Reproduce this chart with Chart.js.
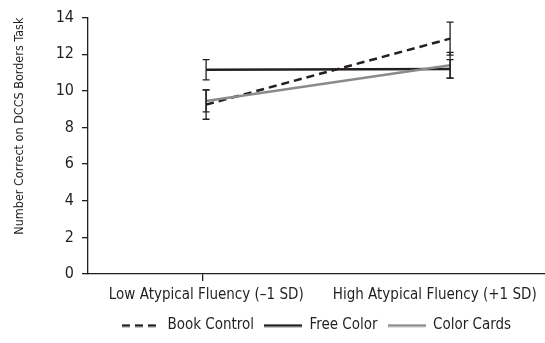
<!DOCTYPE html>
<html>
<head>
<meta charset="utf-8">
<script src="https://cdn.jsdelivr.net/npm/chart.js@4/dist/chart.umd.min.js"></script>
<style>
  html, body { margin: 0; padding: 0; background: #fff; }
  #wrap { width: 545px; height: 343px; }
</style>
</head>
<body>
<div id="wrap"><canvas id="lineChart"></canvas></div>
<script>
// categories and tick labels
const categories = ["Low Atypical Fluency (\u20131 SD)", "High Atypical Fluency (+1 SD)"];
const yTicks = [0, 2, 4, 6, 8, 10, 12, 14];

// series means
const bookControl = [9.25, 12.85];
const freeColor = [11.15, 11.2];
const colorCards = [9.45, 11.4];

// error bar half-lengths
const bookControlErr = [0.8, 0.9];
const freeColorErr = [0.55, 0.5];
const colorCardsErr = [0.6, 0.7];

const FONT = "'Liberation Sans Narrow', 'DejaVu Sans Condensed', 'Arial Narrow', sans-serif";
const INK = "#231f20";
const GREY = "#8a8a8a";

function toPoints(arr) {
  return arr.map((v, i) => ({ x: i, y: v }));
}

// small line sample for the legend (keeps the dash pattern)
function swatch(color, dash) {
  const c = document.createElement("canvas");
  c.width = 38;
  c.height = 4;
  const g = c.getContext("2d");
  g.strokeStyle = color;
  g.lineWidth = 2.5;
  g.setLineDash(dash);
  g.beginPath();
  g.moveTo(0, 2);
  g.lineTo(38, 2);
  g.stroke();
  return c;
}

// draws vertical error bars with caps from dataset.errors
const errorBars = {
  id: "errorBars",
  afterDatasetsDraw(chart) {
    const ctx = chart.ctx;
    const xs = chart.scales.x;
    const ys = chart.scales.y;
    ctx.save();
    ctx.strokeStyle = INK;
    ctx.lineWidth = 1.3;
    chart.data.datasets.forEach((ds) => {
      ds.data.forEach((p, i) => {
        const e = ds.errors[i];
        const px = xs.getPixelForValue(p.x);
        const top = ys.getPixelForValue(p.y + e);
        const bot = ys.getPixelForValue(p.y - e);
        ctx.beginPath();
        ctx.moveTo(px, top);
        ctx.lineTo(px, bot);
        ctx.moveTo(px - 3.5, top);
        ctx.lineTo(px + 3.5, top);
        ctx.moveTo(px - 3.5, bot);
        ctx.lineTo(px + 3.5, bot);
        ctx.stroke();
      });
    });
    ctx.restore();
  },
};

const ctx = document.getElementById("lineChart").getContext("2d");
const chart = new Chart(ctx, {
  type: "line",
  data: {
    datasets: [
      {
        label: "Book Control",
        data: toPoints(bookControl),
        errors: bookControlErr,
        borderColor: INK,
        backgroundColor: INK,
        borderWidth: 2.5,
        borderDash: [8, 5],
        pointRadius: 0,
        pointStyle: swatch(INK, [8, 5]),
        order: 1,
      },
      {
        label: "Free Color",
        data: toPoints(freeColor),
        errors: freeColorErr,
        borderColor: INK,
        backgroundColor: INK,
        borderWidth: 2.5,
        pointRadius: 0,
        pointStyle: swatch(INK, []),
        order: 2,
      },
      {
        label: "Color Cards",
        data: toPoints(colorCards),
        errors: colorCardsErr,
        borderColor: GREY,
        backgroundColor: GREY,
        borderWidth: 2.5,
        pointRadius: 0,
        pointStyle: swatch(GREY, []),
        order: 0,
      },
    ],
  },
  options: {
    responsive: true,
    maintainAspectRatio: false,
    animation: false,
    layout: { padding: { top: 7, right: 0, bottom: 0, left: 0 } },
    plugins: {
      tooltip: { enabled: false },
      legend: {
        position: "bottom",
        fullSize: false,
        labels: {
          usePointStyle: true,
          pointStyleWidth: 38,
          sort: (a, b) => a.datasetIndex - b.datasetIndex,
          padding: 10,
          color: INK,
          font: { family: FONT, size: 15 },
        },
      },
    },
    scales: {
      x: {
        type: "linear",
        display: false,
        min: -0.484,
        max: 1.389,
      },
      x2: {
        type: "category",
        labels: categories,
        position: "bottom",
        offset: true,
        afterFit: (s) => { s.height = 34; },
        border: { display: true, color: INK, width: 1.3 },
        grid: {
          drawOnChartArea: false,
          tickLength: 7,
          lineWidth: 1.3,
          color: (c) => (c.index === 0 ? INK : "rgba(0,0,0,0)"),
        },
        ticks: {
          color: INK,
          padding: 5,
          maxRotation: 0,
          labelOffset: 4,
          font: { family: FONT, size: 15 },
        },
      },
      y: {
        min: 0,
        max: 14,
        afterBuildTicks: (s) => { s.ticks = yTicks.map((v) => ({ value: v })); },
        afterFit: (s) => { s.width = 88; },
        border: { display: true, color: INK, width: 1.3 },
        grid: {
          drawOnChartArea: false,
          tickLength: 6,
          lineWidth: 1.3,
          color: INK,
        },
        ticks: {
          color: INK,
          padding: 8,
          font: { family: FONT, size: 16 },
        },
        title: {
          display: true,
          align: "end",
          text: "Number Correct on DCCS Borders Task",
          color: INK,
          padding: { top: 12, bottom: 4 },
          font: { family: FONT, size: 12.5 },
        },
      },
    },
  },
  plugins: [errorBars],
});
</script>
</body>
</html>
